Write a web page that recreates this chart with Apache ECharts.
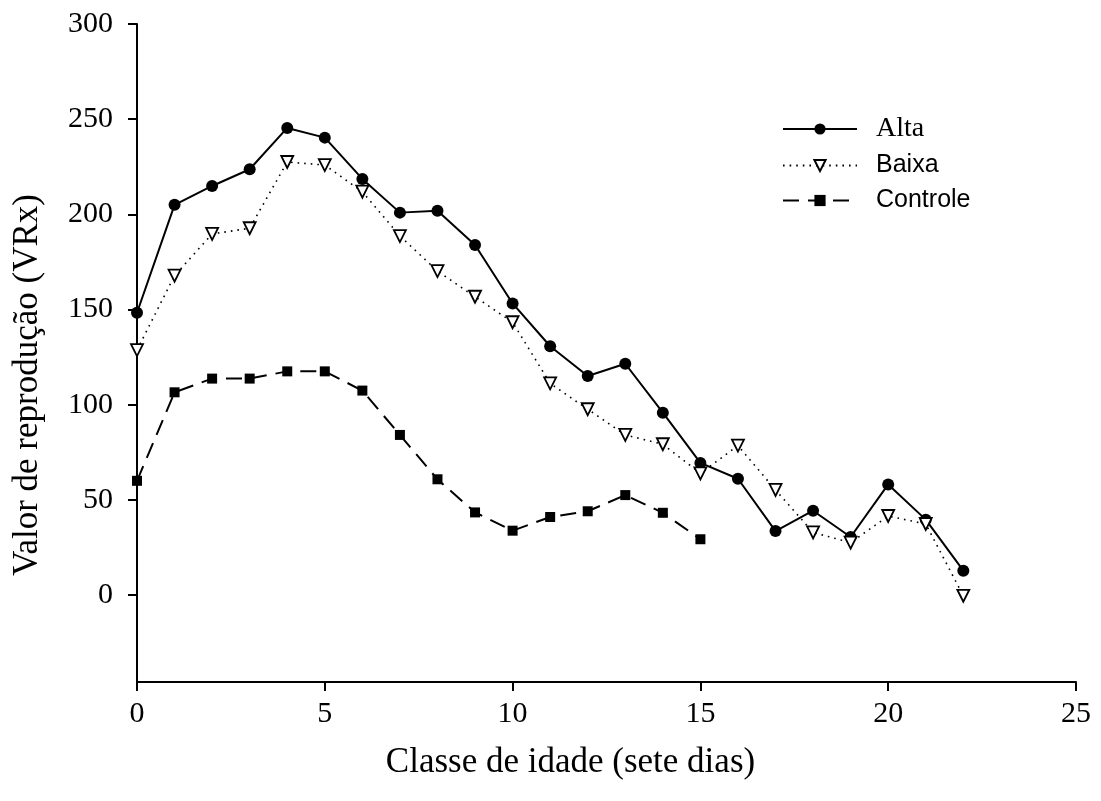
<!DOCTYPE html>
<html>
<head>
<meta charset="utf-8">
<script src="https://cdn.jsdelivr.net/npm/echarts@6/dist/echarts.min.js"></script>
<style>html,body{margin:0;padding:0;background:#fff}#c{width:1101px;height:801px}</style>
</head>
<body>
<div id="c"></div>
<script>
const ageClass = [0,1,2,3,4,5,6,7,8,9,10,11,12,13,14,15,16,17,18,19,20,21,22];
const alta = [148.3,205,214.9,223.7,245.4,240.3,218.6,200.9,201.9,183.9,153.2,130.7,115.1,121.5,95.8,69.4,61.1,33.6,44.3,30.5,58.1,39.6,12.8];
const baixa = [128.7,167.8,189.7,192.7,227.5,225.9,211.9,188.6,170.2,156.7,143.3,111.2,97.6,84.1,79.2,63.9,78.5,55.2,32.9,27.5,41.5,37.3,-0.4];
const controle = [60.0,106.5,113.7,113.7,117.5,117.5,107.4,84.1,60.8,43.4,33.8,41.0,44.0,52.5,43.2,29.3];
const yTicks = [0,50,100,150,200,250,300];
const xTicks = [0,5,10,15,20,25];

const pairs = (ys) => ys.map((v,i)=>[ageClass[i], v]);
const serif = '"Liberation Serif","Times New Roman",serif';
const sans = '"Liberation Sans",Arial,sans-serif';

const chart = echarts.init(document.getElementById('c'), null, {renderer:'canvas'});
chart.setOption({
  animation: false,
  backgroundColor: '#fff',
  grid: {left: 137, right: 25, top: 24, bottom: 119, containLabel: false},
  legend: {
    left: 777, top: 110, orient: 'vertical',
    itemWidth: 74, itemHeight: 14, itemGap: 10,
    selectedMode: false,
    data: ['Alta','Baixa','Controle'],
    formatter: (n) => n === 'Alta' ? '{s|' + n + '}' : '{a|' + n + '}',
    textStyle: {
      color: '#000', padding: [0,0,0,14],
      rich: {
        s: {fontFamily: serif, fontSize: 28, color: '#000'},
        a: {fontFamily: sans, fontSize: 25, color: '#000'}
      }
    }
  },
  xAxis: {
    type: 'value', min: 0, max: 25, interval: 5,
    name: 'Classe de idade (sete dias)', nameLocation: 'middle', nameGap: 63,
    nameTextStyle: {fontFamily: serif, fontSize: 35, color: '#000', padding: [0,72,0,0]},
    axisLine: {show: true, onZero: false, lineStyle: {color: '#000', width: 2}},
    axisTick: {show: true, length: 9, lineStyle: {color: '#000', width: 2}, customValues: xTicks},
    axisLabel: {fontFamily: serif, fontSize: 30, color: '#000', margin: 17, customValues: xTicks},
    splitLine: {show: false}
  },
  yAxis: {
    type: 'value', min: -45.7, max: 300,
    name: 'Valor de reprodução (VRx)', nameLocation: 'middle', nameGap: 92,
    nameTextStyle: {fontFamily: serif, fontSize: 35, color: '#000', padding: [0,64,0,0]},
    axisLine: {show: true, onZero: false, lineStyle: {color: '#000', width: 2}},
    axisTick: {show: true, length: 9, lineStyle: {color: '#000', width: 2}, customValues: yTicks},
    axisLabel: {fontFamily: serif, fontSize: 30, color: '#000', margin: 24, customValues: yTicks},
    splitLine: {show: false}
  },
  series: [
    {
      name: 'Alta', type: 'line', data: pairs(alta),
      symbol: 'circle', symbolSize: 12,
      itemStyle: {color: '#000'},
      lineStyle: {color: '#000', width: 2, type: 'solid'}
    },
    {
      name: 'Baixa', type: 'line', data: pairs(baixa),
      symbol: 'triangle', symbolRotate: 180, symbolSize: 12,
      itemStyle: {color: '#fff', borderColor: '#000', borderWidth: 1.8},
      lineStyle: {color: '#000', width: 1.6, type: [1.6, 5]}
    },
    {
      name: 'Controle', type: 'line', data: pairs(controle),
      symbol: 'rect', symbolSize: 10,
      itemStyle: {color: '#000'},
      lineStyle: {color: '#000', width: 2, type: [16, 9]}
    }
  ]
});
</script>
</body>
</html>
